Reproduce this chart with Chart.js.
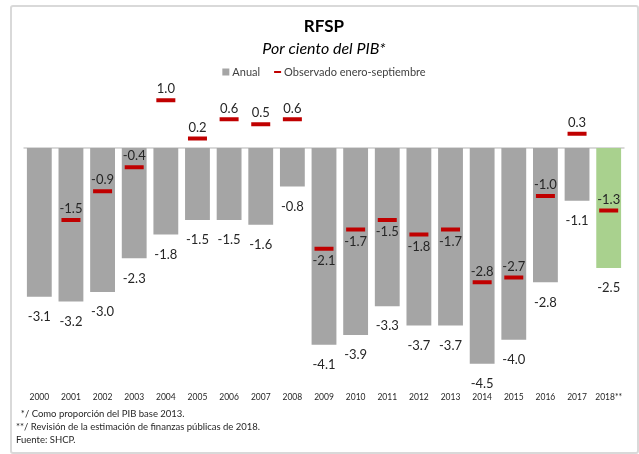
<!DOCTYPE html>
<html>
<head>
<meta charset="utf-8">
<script src="https://cdn.jsdelivr.net/npm/chart.js@4"></script>
<style>
html, body { margin: 0; padding: 0; background: #fff; }
#frame { position: absolute; left: 10px; top: 5px; width: 629px; height: 449px; box-sizing: border-box; border: 2px solid #d9d9d9; border-radius: 3px; }
#wrap { position: absolute; left: 10px; top: 0; width: 628px; height: 454px; }
</style>
</head>
<body>
<div id="frame"></div>
<div id="wrap"><canvas id="chart"></canvas></div>
<script>
// RFSP, por ciento del PIB
var years = ['2000', '2001', '2002', '2003', '2004', '2005', '2006', '2007', '2008', '2009',
             '2010', '2011', '2012', '2013', '2014', '2015', '2016', '2017', '2018**'];
var anual = [-3.1, -3.2, -3.0, -2.3, -1.8, -1.5, -1.5, -1.6, -0.8, -4.1,
             -3.9, -3.3, -3.7, -3.7, -4.5, -4.0, -2.8, -1.1, -2.5];
var observado = [null, -1.5, -0.9, -0.4, 1.0, 0.2, 0.6, 0.5, 0.6, -2.1,
                 -1.7, -1.5, -1.8, -1.7, -2.8, -2.7, -1.0, 0.3, -1.3];
// where the label of each red mark goes
var obsLabelSide = ['above', 'above', 'above', 'above', 'above', 'above', 'above', 'above', 'above', 'below',
                    'below', 'below', 'below', 'below', 'above', 'above', 'above', 'above', 'above'];
var footNotes = ['  */ Como proporción del PIB base 2013.',
                 '**/ Revisión de la estimación de finanzas públicas de 2018.',
                 'Fuente: SHCP.'];

var GRAY = '#a5a5a5';
var GREEN = '#a9d18e';
var RED = '#c00000';
var TXT = '#262626';
var FONT = 'Lato, "Open Sans", sans-serif';

var barColors = [];
for (var i = 0; i < anual.length; i++) {
  barColors.push(i === anual.length - 1 ? GREEN : GRAY);
}

var rfspPlugin = {
  id: 'rfsp',
  beforeDatasetsDraw: function(chart) {
    var ctx = chart.ctx;
    var area = chart.chartArea;
    var y0 = chart.scales.y.getPixelForValue(0);
    ctx.save();
    ctx.strokeStyle = '#d9d9d9';
    ctx.lineWidth = 2;
    ctx.beginPath();
    ctx.moveTo(area.left, y0);
    ctx.lineTo(area.right, y0);
    ctx.stroke();
    ctx.restore();
  },
  afterDatasetsDraw: function(chart) {
    var ctx = chart.ctx;
    ctx.save();
    ctx.font = '13px ' + FONT;
    ctx.fillStyle = TXT;
    ctx.textAlign = 'center';
    ctx.textBaseline = 'middle';
    var bars = chart.getDatasetMeta(0).data;
    for (var i = 0; i < bars.length; i++) {
      ctx.fillText(anual[i].toFixed(1), bars[i].x, bars[i].y + 20);
    }
    var marks = chart.getDatasetMeta(1).data;
    for (var j = 0; j < marks.length; j++) {
      if (observado[j] === null) continue;
      var dy = obsLabelSide[j] === 'above' ? -11 : 12;
      ctx.fillText(observado[j].toFixed(1), marks[j].x, marks[j].y + dy);
    }
    ctx.restore();
  },
  afterDraw: function(chart) {
    var ctx = chart.ctx;
    var cx = chart.width / 2;
    ctx.save();
    ctx.fillStyle = '#000';
    ctx.textAlign = 'center';
    ctx.textBaseline = 'middle';
    ctx.font = 'bold 17px ' + FONT;
    ctx.fillText('RFSP', cx, 27);
    ctx.font = 'italic 16px ' + FONT;
    ctx.fillText('Por ciento del PIB*', cx, 49);

    // legend
    ctx.font = '11px ' + FONT;
    ctx.fillStyle = '#404040';
    var l1 = 'Anual', l2 = 'Observado enero-septiembre';
    var w1 = ctx.measureText(l1).width, w2 = ctx.measureText(l2).width;
    var total = 7 + 3 + w1 + 14 + 7 + 3 + w2;
    var x = cx - total / 2, ly = 72;
    ctx.fillStyle = GRAY;
    ctx.fillRect(x, ly - 3.5, 7, 7);
    x += 10;
    ctx.fillStyle = '#404040';
    ctx.textAlign = 'left';
    ctx.fillText(l1, x, ly);
    x += w1 + 14;
    ctx.fillStyle = RED;
    ctx.fillRect(x, ly - 1, 7, 2);
    x += 10;
    ctx.fillStyle = '#404040';
    ctx.fillText(l2, x, ly);

    // notes
    ctx.font = '9.5px ' + FONT;
    ctx.fillStyle = TXT;
    for (var k = 0; k < footNotes.length; k++) {
      ctx.fillText(footNotes[k], 6, 414 + k * 13);
    }
    ctx.restore();
  }
};

var ctx = document.getElementById('chart').getContext('2d');
var chart = new Chart(ctx, {
  type: 'bar',
  data: {
    labels: years,
    datasets: [{
      label: 'Anual',
      data: anual,
      backgroundColor: barColors,
      barPercentage: 0.785,
      categoryPercentage: 1,
      order: 2
    }, {
      label: 'Observado enero-septiembre',
      type: 'line',
      data: observado,
      showLine: false,
      pointStyle: 'line',
      pointRadius: 9.5,
      pointHoverRadius: 9.5,
      pointBorderWidth: 4,
      pointBorderColor: RED,
      pointBackgroundColor: RED,
      borderColor: RED,
      order: 1
    }]
  },
  options: {
    responsive: true,
    maintainAspectRatio: false,
    animation: false,
    layout: { padding: { top: 81, left: 11, right: 12, bottom: 48 } },
    plugins: {
      legend: { display: false },
      tooltip: { enabled: false }
    },
    scales: {
      x: {
        grid: { display: false, drawTicks: false },
        border: { display: false },
        ticks: {
          autoSkip: false,
          maxRotation: 0,
          padding: 4,
          color: '#262626',
          font: { family: FONT, size: 8.5 }
        }
      },
      y: {
        display: false,
        min: -5,
        max: 1.4
      }
    }
  },
  plugins: [rfspPlugin]
});
</script>
</body>
</html>
